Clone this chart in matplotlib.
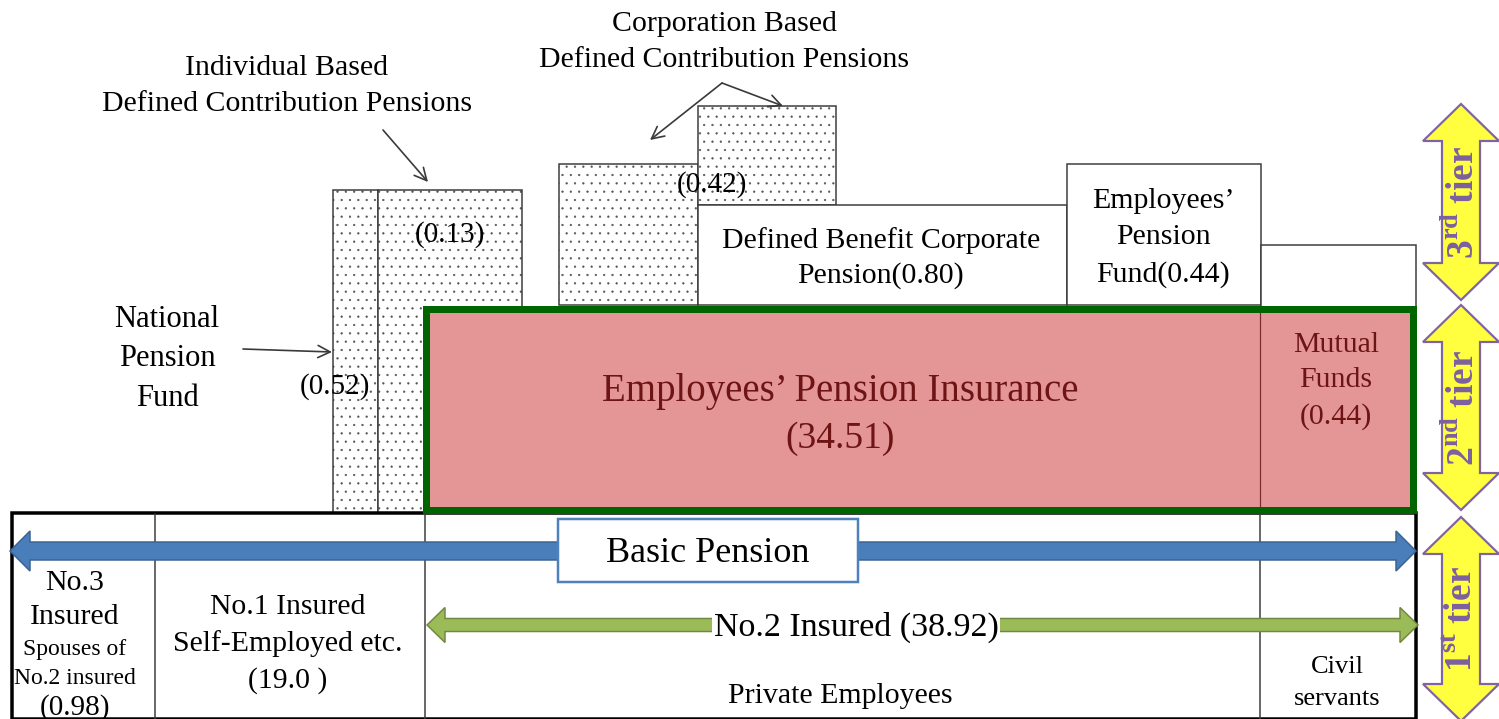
import matplotlib
matplotlib.use("Agg")
import matplotlib.pyplot as plt
from matplotlib.patches import Rectangle, Polygon
import numpy as np

plt.rcParams['font.family'] = ['Liberation Serif', 'DejaVu Serif']
plt.rcParams['mathtext.fontset'] = 'custom'
plt.rcParams['mathtext.rm'] = 'Liberation Serif'
plt.rcParams['mathtext.bf'] = 'Liberation Serif:bold'
plt.rcParams['hatch.linewidth'] = 0.4

# ---------------- data ----------------
tier1_labels = ["No.3\nInsured", "No.1 Insured\nSelf-Employed etc.", "No.2 Insured"]
tier1_values = [0.98, 19.0, 38.92]
tier1_sub = ["Spouses of\nNo.2 insured", "Private Employees", "Civil\nservants"]
tier2_labels = ["Employees\u2019 Pension Insurance", "Mutual\nFunds"]
tier2_values = [34.51, 0.44]
tier3_labels = ["National\nPension\nFund", "Individual Based\nDefined Contribution Pensions",
                "Corporation Based\nDefined Contribution Pensions",
                "Defined Benefit Corporate\nPension", "Employees\u2019\nPension\nFund"]
tier3_values = [0.52, 0.13, 0.42, 0.80, 0.44]
tier_names = ["1$^{\\mathbf{st}}$ tier", "2$^{\\mathbf{nd}}$ tier", "3$^{\\mathbf{rd}}$ tier"]
basic_label = "Basic Pension"

# ---------------- layout ----------------
W, H = 1499, 719
fig = plt.figure(figsize=(W / 100, H / 100), dpi=100)
ax = fig.add_axes([0, 0, 1, 1])
ax.set_xlim(0, W)
ax.set_ylim(H, 0)
ax.axis('off')

PX = 0.72  # points per pixel
EDGE = '#3a3a3a'
DARKRED = '#6e1414'
DY = 3


def box(x0, y0, x1, y1, fc='white', ec=EDGE, lw=1.5, hatch=None, z=2):
    if hatch:
        ax.add_patch(Rectangle((x0, y0), x1 - x0, y1 - y0, facecolor=fc, edgecolor='#555555',
                               lw=0, hatch=hatch, zorder=z))
        fc = 'none'
    ax.add_patch(Rectangle((x0, y0), x1 - x0, y1 - y0, facecolor=fc, edgecolor=ec,
                           lw=lw * PX, zorder=z))


def double_arrow(x0, y0, x1, y1, shaft, head, hlen, fc, ec, lw=1.5, z=5):
    p0 = np.array([x0, y0], float)
    p1 = np.array([x1, y1], float)
    d = (p1 - p0) / np.linalg.norm(p1 - p0)
    n = np.array([-d[1], d[0]])
    a = p0 + d * hlen
    b = p1 - d * hlen
    pts = [p0, a + n * head / 2, a + n * shaft / 2, b + n * shaft / 2, b + n * head / 2,
           p1, b - n * head / 2, b - n * shaft / 2, a - n * shaft / 2, a - n * head / 2]
    ax.add_patch(Polygon(pts, closed=True, facecolor=fc, edgecolor=ec, lw=lw * PX,
                         joinstyle='miter', zorder=z))


def txt(x, y, s, size, color='black', ls=1.2, **kw):
    ax.text(x, y + DY, s, fontsize=size, color=color, ha='center', va='center',
            linespacing=ls, zorder=10, **kw)


def pointer(x0, y0, x1, y1):
    ax.annotate('', xy=(x1, y1), xytext=(x0, y0),
                arrowprops=dict(arrowstyle='->', color='#3a3a3a', lw=1.2,
                                mutation_scale=22, shrinkA=0, shrinkB=0), zorder=9)


# ---- 3rd tier boxes ----
box(333, 190, 378, 513, hatch='..')                 # National Pension Fund
box(378, 190, 522, 513, hatch='..')                 # Individual DC
box(559, 164, 698, 305, hatch='..')                 # Corporation DC (left)
box(698, 106, 836, 205, hatch='..')                 # Corporation DC (right)
box(698, 205, 1067, 305)                            # Defined Benefit
box(1067, 164, 1261, 305)                           # Employees' Pension Fund
box(1261, 245, 1416, 309)                           # empty box

txt(335, 384, f"({tier3_values[0]:.2f})", 21)
txt(450, 232, f"({tier3_values[1]:.2f})", 21)
txt(712, 182, f"({tier3_values[2]:.2f})", 21)
txt(881, 255, tier3_labels[3] + f"({tier3_values[3]:.2f})", 21.5, ls=1.41)
txt(1163, 235, tier3_labels[4] + f"({tier3_values[4]:.2f})", 21.5, ls=1.5)

txt(167, 356, tier3_labels[0], 22, ls=1.46)
txt(287, 83, tier3_labels[1], 21.5, ls=1.5)
txt(724, 39, tier3_labels[2], 21.5, ls=1.5)

pointer(243, 349, 332, 352)
pointer(383, 130, 428, 182)
pointer(722, 83, 650, 140)
pointer(722, 83, 783, 106)

# ---- 2nd tier ----
box(426, 309, 1413, 510, fc='#e49696', ec='#006400', lw=7, z=4)
ax.plot([1260, 1260], [313, 506], color='#7a2a2a', lw=1.2 * PX, zorder=4.5)
txt(840, 389, tier2_labels[0], 28, color=DARKRED)
txt(840, 436, f"({tier2_values[0]:.2f})", 27, color=DARKRED)
txt(1336, 378, tier2_labels[1] + f"\n({tier2_values[1]:.2f})", 21.5, color=DARKRED, ls=1.47)

# ---- 1st tier ----
box(12, 513, 1416, 719, lw=3.5, ec='black', z=3)
for xv in (155, 425, 1260):
    ax.plot([xv, xv], [514, 719], color=EDGE, lw=1.5 * PX, zorder=3.5)

double_arrow(10, 551, 1416, 551, 18, 40, 20, '#4a7ebb', '#3a6494')
box(558, 519, 858, 582, ec='#4f81bd', lw=2.5, z=6)
txt(708, 551, basic_label, 26)

double_arrow(427, 625, 1418, 625, 13, 35, 18, '#9bbb59', '#71893f')
ax.text(856, 624 + DY, f"{tier1_labels[2]} ({tier1_values[2]:.2f})", fontsize=24.5,
        ha='center', va='center', zorder=10,
        bbox=dict(facecolor='white', edgecolor='none', pad=1))

txt(75, 597, tier1_labels[0], 21.5, ls=1.44)
txt(75, 661, tier1_sub[0], 17, ls=1.45)
txt(75, 705, f"({tier1_values[0]:.2f})", 21)
txt(288, 641, tier1_labels[1] + f"\n({tier1_values[1]:.1f} )", 21.4, ls=1.5)
txt(840, 693, tier1_sub[1], 21.5)
txt(1337, 680, tier1_sub[2], 19, ls=1.56)

# ---- tier arrows ----
tier_spans = [(517, 721), (305, 510), (104, 300)]
for name, (ya, yb) in zip(tier_names, tier_spans):
    double_arrow(1461, ya, 1461, yb, 38, 76, 37, '#ffff40', '#8064a2', lw=2.2, z=5)
    ax.text(1463, (ya + yb) / 2, name, rotation=90, fontsize=27, fontweight='bold',
            color='#7c5fa0', ha='center', va='center', zorder=10)

fig.savefig('out.png', dpi=100)
